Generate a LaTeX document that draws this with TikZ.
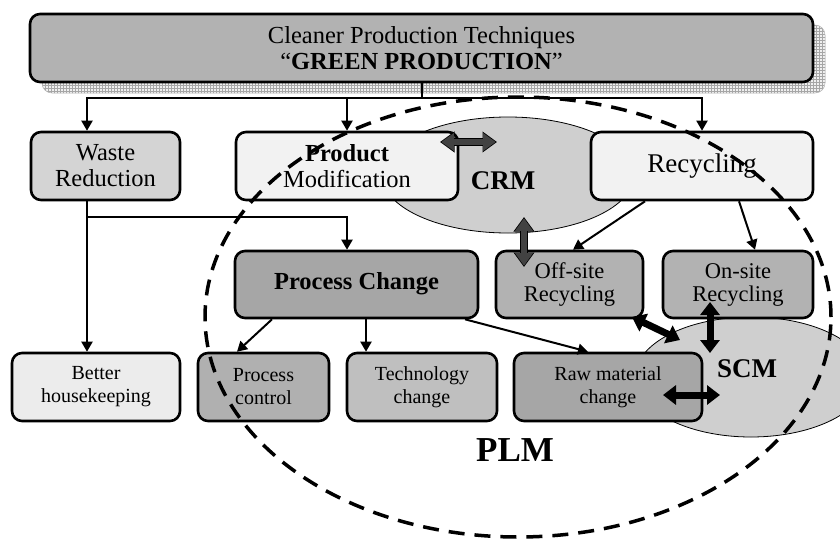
\documentclass[tikz,border=0pt]{standalone}
\usepackage{fontspec}
\setmainfont{Liberation Serif}
\usetikzlibrary{arrows.meta,shapes.geometric,patterns}
\definecolor{topc}{gray}{0.70}
\definecolor{wastec}{gray}{0.83}
\definecolor{lightc}{gray}{0.95}
\definecolor{procc}{gray}{0.65}
\definecolor{recc}{gray}{0.70}
\definecolor{betterc}{gray}{0.925}
\definecolor{pctrlc}{gray}{0.69}
\definecolor{techc}{gray}{0.75}
\definecolor{rawc}{gray}{0.65}
\definecolor{ellc}{gray}{0.81}
\definecolor{darkarr}{gray}{0.26}
\newcommand\fsA{\fontsize{24.5}{26}\selectfont}
\newcommand\fsR{\fontsize{27}{30}\selectfont}
\newcommand\fsB{\fontsize{22.5}{23}\selectfont}
\newcommand\fsC{\fontsize{20}{23}\selectfont}
\begin{document}
\begin{tikzpicture}[x=1pt,y=-1pt,
  box/.style={draw=black, line width=2.6pt, rounded corners=10pt, align=center, inner sep=0pt},
  oval/.style={ellipse, draw=black, line width=0.8pt, fill=ellc, inner sep=0pt},
  line/.style={line width=2pt},
  arr/.style={line width=2pt, -{Triangle[length=10pt,width=11pt]}},
  fatblack/.style={line width=7pt, black, {Triangle[length=13pt,width=19pt]}-{Triangle[length=13pt,width=19pt]}},
  fatout/.style={line width=8.6pt, black, {Triangle[length=14.5pt,width=20pt]}-{Triangle[length=14.5pt,width=20pt]}},
  fatin/.style={line width=6.6pt, darkarr, shorten <=1.3pt, shorten >=1.3pt, {Triangle[length=12.5pt,width=17pt]}-{Triangle[length=12.5pt,width=17pt]}},
  lbl/.style={font=\bfseries, inner sep=0pt}
]
\useasboundingbox (0,0) rectangle (840,538);
\clip (0,0) rectangle (840,538);
\fill[white] (0,0) rectangle (840,538);
% background ovals
\node[oval, minimum width=252pt, minimum height=116pt] (crm) at (508,175) {};
\node[oval, minimum width=232pt, minimum height=120pt] (scm) at (751,377) {};
% shadow of top box
\fill[gray!12, rounded corners=10pt] (42,25) rectangle (825,93);
\path[pattern=grid, pattern color=gray!70, rounded corners=10pt] (42,25) rectangle (825,93);
\draw[gray!60, line width=0.5pt, rounded corners=10pt] (42,25) rectangle (825,93);
% top box
\node[box, fill=topc, minimum width=783pt, minimum height=68pt, font=\fsA] (top) at (421.5,48)
  {Cleaner Production Techniques\\“\textbf{GREEN PRODUCTION}”};
% row 1
\node[box, fill=wastec, minimum width=149pt, minimum height=68pt, font=\fsA] (waste) at (105.5,166) {Waste\\Reduction};
\node[box, fill=lightc, minimum width=222pt, minimum height=68pt, font=\fsA] (prod) at (347,166) {\textbf{Product}\\Modification};
\node[box, fill=lightc, minimum width=222pt, minimum height=68pt, font=\fsR] (recyc) at (702,166) {\raisebox{6pt}{Recycling}};
% row 2
\node[box, fill=procc, minimum width=243pt, minimum height=67pt, font=\fsA] (proc) at (356.5,284.5) {\raisebox{7pt}{\textbf{Process Change}}};
\node[box, fill=recc, minimum width=147pt, minimum height=67pt, font=\fsB] (off) at (569.5,284.5) {Off-site\\Recycling};
\node[box, fill=recc, minimum width=150pt, minimum height=67pt, font=\fsB] (on) at (738,284.5) {On-site\\Recycling};
% row 3
\node[box, fill=betterc, minimum width=168pt, minimum height=68pt, font=\fsC] (better) at (96,387) {Better\\housekeeping};
\node[box, fill=pctrlc, minimum width=131pt, minimum height=68pt, font=\fsC] (pctrl) at (263.5,387) {Process\\control};
\node[box, fill=techc, minimum width=150pt, minimum height=68pt, font=\fsC] (tech) at (422,387) {Technology\\change};
\node[box, fill=rawc, minimum width=188pt, minimum height=68pt, font=\fsC] (raw) at (608,387) {Raw material\\change};
% connectors
\coordinate (j) at (421.5,98);
\coordinate (wx) at (87,98);
\coordinate (wp) at (87,217);
\draw[line] (top.south) -- (j);
\draw[arr] (j) -| (prod.north);
\draw[arr] (j) -| (recyc.north);
\draw[arr] (j) -- (wx) -- (wx |- waste.north);
\draw[arr] (wx |- waste.south) -- (wx |- better.north);
\draw[arr] (wp) -| ([xshift=-9.5pt]proc.north);
\draw[arr] ([xshift=-57pt]recyc.south) -- ([xshift=3.5pt]off.north);
\draw[arr] ([xshift=37pt]recyc.south) -- ([xshift=17pt]on.north);
\draw[arr] ([xshift=-84.5pt]proc.south) -- ([xshift=-26.5pt]pctrl.north);
\draw[arr] ([xshift=9.5pt]proc.south) -- ([xshift=-56pt]tech.north);
\draw[arr] ([xshift=108.5pt]proc.south) -- ([xshift=-20pt]raw.north);
% fat double arrows
\coordinate (pa) at (440,142);
\coordinate (pb) at (497,142);
\coordinate (ca) at (524,217);
\coordinate (cb) at (524,267);
\coordinate (oa) at (632,317);
\coordinate (ob) at (680,340);
\coordinate (na) at (710,302);
\coordinate (nb) at (710,353);
\coordinate (ra) at (663,395);
\coordinate (rb) at (720,395);
\draw[fatout] (pa) -- (pb);
\draw[fatin] (pa) -- (pb);
\draw[fatout] (ca) -- (cb);
\draw[fatin] (ca) -- (cb);
\draw[fatblack] (oa) -- (ob);
\draw[fatblack] (na) -- (nb);
\draw[fatblack] (ra) -- (rb);
% PLM dashed area
\node[ellipse, draw=black, line width=3.5pt, dash pattern=on 16pt off 10pt, minimum width=626pt, minimum height=440pt, inner sep=0pt] (plmarea) at (518,317) {};
% labels
\node[lbl, font=\bfseries\fontsize{27}{30}\selectfont] (crmlbl) at (503,181) {CRM};
\node[lbl, font=\bfseries\fontsize{27}{30}\selectfont] (scmlbl) at (747,369) {SCM};
\node[lbl, font=\bfseries\fontsize{35}{38}\selectfont] (plmlbl) at (515,450) {PLM};
\end{tikzpicture}
\end{document}
